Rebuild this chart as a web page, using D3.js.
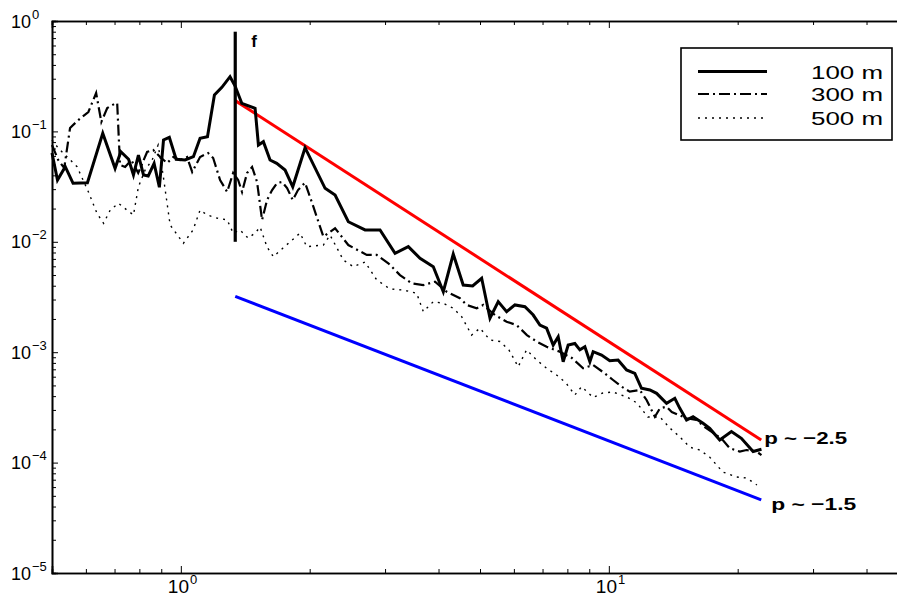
<!DOCTYPE html>
<html><head><meta charset="utf-8">
<script src="https://cdn.jsdelivr.net/npm/d3@7/dist/d3.min.js"></script>
<style>
body{margin:0;background:#fff}
svg{display:block}
text{font-family:"Liberation Sans",Arial,Helvetica,sans-serif;fill:#000}
</style>
</head><body>
<svg id="chart" width="897" height="598"></svg>
<script>
// ---------- data ----------
const freq100 = [0.500,0.515,0.537,0.560,0.605,0.657,0.702,0.724,0.755,0.775,0.796,0.818,0.839,0.866,0.891,0.911,0.940,0.975,1.023,1.070,1.109,1.154,1.198,1.247,1.303,1.339,1.388,1.491,1.518,1.559,1.616,1.675,1.752,1.826,1.951,2.173,2.293,2.462,2.694,2.920,3.166,3.400,3.621,3.889,4.104,4.330,4.568,4.806,5.045,5.276,5.515,5.770,6.033,6.367,6.658,6.902,7.154,7.413,7.615,7.822,8.035,8.329,8.557,8.790,9.030,9.191,9.616,10.05,10.51,11.00,11.50,11.92,12.47,12.93,13.64,14.26,14.65,15.19,15.73,16.60,17.21,18.16,19.34,20.40,21.73,22.73];
const psd100 = [0.0637,0.0363,0.0479,0.0339,0.0343,0.0961,0.0463,0.0655,0.0559,0.0403,0.0611,0.0403,0.0394,0.0514,0.0312,0.0836,0.0884,0.0559,0.0551,0.0590,0.0866,0.0895,0.2137,0.2508,0.313,0.2577,0.1797,0.1619,0.0753,0.0807,0.0551,0.0514,0.0447,0.0315,0.0712,0.0305,0.0265,0.0152,0.0128,0.0128,0.00787,0.00903,0.00709,0.00595,0.00353,0.00775,0.00406,0.00398,0.00467,0.00203,0.00287,0.00233,0.00268,0.00258,0.00217,0.00176,0.00165,0.00116,0.00138,0.00082,0.00116,0.0012,0.00105,0.00112,0.00082,0.00101,0.000943,0.000838,0.00085,0.00069,0.000644,0.000471,0.000455,0.000424,0.000344,0.000382,0.00031,0.000243,0.00026,0.000227,0.000204,0.00016,0.000191,0.000166,0.000126,0.000132];

const freq300 = [0.500,0.517,0.534,0.551,0.576,0.608,0.634,0.652,0.673,0.699,0.710,0.721,0.741,0.766,0.795,0.834,0.862,0.895,0.929,0.960,0.996,1.034,1.063,1.109,1.158,1.190,1.235,1.283,1.325,1.361,1.390,1.428,1.467,1.507,1.548,1.590,1.634,1.678,1.724,1.771,1.826,1.878,1.951,2.040,2.153,2.293,2.462,2.719,2.869,3.053,3.251,3.462,3.686,3.925,4.180,4.488,4.654,4.912,5.088,5.418,5.770,6.089,6.435,6.779,7.154,7.684,8.197,8.710,9.191,9.683,10.23,10.71,11.19,11.81,12.25,12.81,13.16,13.64,14.03,15.19,16.02,16.85,17.84,18.46,19.16,20.23,20.97,22.13,22.73];
const psd300 = [0.0753,0.0551,0.0466,0.1074,0.1268,0.1499,0.2228,0.1217,0.1629,0.1771,0.1809,0.0496,0.0476,0.0551,0.042,0.0651,0.0679,0.0586,0.0517,0.0586,0.0551,0.0586,0.0429,0.0586,0.0637,0.0574,0.0363,0.0283,0.042,0.0363,0.0283,0.042,0.0476,0.0348,0.01576,0.0239,0.0294,0.0341,0.0348,0.0307,0.0239,0.0294,0.0343,0.0208,0.01112,0.01326,0.00935,0.0076,0.0076,0.00639,0.0050,0.00421,0.00406,0.00435,0.00353,0.00308,0.00268,0.0025,0.00268,0.00217,0.00189,0.00176,0.00143,0.00125,0.00112,0.00101,0.000886,0.000715,0.000766,0.000662,0.00056,0.000487,0.000439,0.000455,0.000369,0.00026,0.00031,0.000321,0.000287,0.000252,0.000243,0.000206,0.000178,0.00016,0.000135,0.000126,0.00013,0.000126,0.000117];

const freq500 = [0.500,0.517,0.542,0.572,0.608,0.637,0.660,0.684,0.715,0.748,0.775,0.796,0.825,0.857,0.885,0.909,0.944,1.014,1.068,1.109,1.152,1.215,1.283,1.325,1.375,1.436,1.491,1.532,1.590,1.645,1.733,1.832,1.899,1.969,2.058,2.153,2.232,2.397,2.529,2.694,2.869,3.081,3.309,3.556,3.686,3.889,4.104,4.322,4.530,4.780,4.998,5.276,5.566,5.841,6.141,6.424,6.779,7.154,7.549,7.94,8.329,8.636,9.191,9.683,10.22,11.02,11.63,12.33,13.16,13.88,14.65,15.46,16.31,17.21,18.46,19.90,20.99,22.18];
const psd500 = [0.0836,0.0707,0.059,0.0479,0.0284,0.0181,0.0147,0.0194,0.0223,0.0194,0.0175,0.0315,0.0447,0.0551,0.0753,0.0403,0.0142,0.0097,0.0128,0.0194,0.0175,0.0164,0.0158,0.012,0.0128,0.0108,0.012,0.0136,0.00897,0.00733,0.00879,0.0106,0.012,0.00903,0.0092,0.00935,0.0115,0.00684,0.00595,0.00656,0.00451,0.00374,0.00366,0.00342,0.00233,0.00287,0.00277,0.00251,0.0021,0.00143,0.00165,0.00129,0.00125,0.00105,0.000739,0.00105,0.00085,0.000715,0.000622,0.000526,0.00041,0.000487,0.000389,0.000427,0.000436,0.000393,0.000347,0.000259,0.000259,0.000206,0.000171,0.000138,0.00013,0.000112,0.0000822,0.0000741,0.0000725,0.0000627];

const seriesNames = ["100 m", "300 m", "500 m"];

// power-law reference lines
const slopeRedX = [1.34, 22.7];
const slopeRedY = [0.19, 0.00016];
const slopeBlueX = [1.34, 22.7];
const slopeBlueY = [0.0032, 0.000046];
const slopeLabels = ["p ~ \u22122.5", "p ~ \u22121.5"];

// forcing frequency marker
const fMarkX = 1.34;
const fMarkY = [0.01, 0.8];
const fLabel = "f";

// axes
const xDomain = [0.5, 50];
const yDomain = [1e-5, 1];
const xMajorTicks = [1, 10];
const yMajorTicks = [1e-5, 1e-4, 1e-3, 1e-2, 1e-1, 1];
const xTickExp = ["0", "1"];
const yTickExp = ["\u22125", "\u22124", "\u22123", "\u22122", "\u22121", "0"];

// ---------- drawing ----------
const svg = d3.select("#chart");
const L = 52, T = 21, B = 573, R = 908;
const x = d3.scaleLog().domain(xDomain).range([L, R]);
const y = d3.scaleLog().domain(yDomain).range([B, T]);

const isMajor = v => Math.abs(Math.log10(v) - Math.round(Math.log10(v))) < 1e-9;
const xMinor = x.ticks().filter(v => !isMajor(v) && v > xDomain[0] && v < xDomain[1]);
const yMinor = y.ticks().filter(v => !isMajor(v));

const ax = svg.append("g");
ax.append("g").attr("transform", `translate(0,${B})`)
  .call(d3.axisBottom(x).tickValues(xMajorTicks).tickSize(-7).tickFormat(""));
ax.append("g").attr("transform", `translate(0,${B})`)
  .call(d3.axisBottom(x).tickValues(xMinor).tickSize(-4).tickFormat(""));
ax.append("g").attr("transform", `translate(0,${T})`)
  .call(d3.axisTop(x).tickValues(xMajorTicks).tickSize(-7).tickFormat(""));
ax.append("g").attr("transform", `translate(0,${T})`)
  .call(d3.axisTop(x).tickValues(xMinor).tickSize(-4).tickFormat(""));
ax.append("g").attr("transform", `translate(${L},0)`)
  .call(d3.axisLeft(y).tickValues(yMajorTicks).tickSize(-6).tickFormat(""));
ax.append("g").attr("transform", `translate(${L},0)`)
  .call(d3.axisLeft(y).tickValues(yMinor).tickSize(-4).tickFormat(""));
ax.selectAll("path.domain").attr("stroke", "#000").attr("stroke-width", 1.6);
ax.selectAll(".tick line").attr("stroke", "#000").attr("stroke-width", 1);

// tick labels 10^n
yMajorTicks.forEach((v, i) => {
  const t = svg.append("text").attr("x", 11).attr("y", y(v) + 6.5).attr("font-size", 18);
  t.append("tspan").text("10");
  t.append("tspan").attr("dy", -9).attr("dx", 1).attr("font-size", 13).text(yTickExp[i]);
});
xMajorTicks.forEach((v, i) => {
  const t = svg.append("text").attr("x", x(v) - 13).attr("y", 593).attr("font-size", 19);
  t.append("tspan").text("10");
  t.append("tspan").attr("dy", -9).attr("dx", 1).attr("font-size", 13).text(xTickExp[i]);
});

const line = d3.line().x(d => x(d[0])).y(d => y(d[1]));
const zip = (a, b) => a.map((v, i) => [v, b[i]]);

// reference lines
svg.append("path").datum(zip(slopeRedX, slopeRedY)).attr("d", line)
  .attr("fill", "none").attr("stroke", "#ff0000").attr("stroke-width", 3);
svg.append("path").datum(zip(slopeBlueX, slopeBlueY)).attr("d", line)
  .attr("fill", "none").attr("stroke", "#0000ff").attr("stroke-width", 3);

const styles = [
  {w: 3, dash: null},
  {w: 2.2, dash: "11,4,2,4"},
  {w: 1.4, dash: "2,5"}
];
const series = [zip(freq100, psd100), zip(freq300, psd300), zip(freq500, psd500)];
series.forEach((s, i) => {
  svg.append("path").datum(s).attr("d", line)
    .attr("fill", "none").attr("stroke", "#000")
    .attr("stroke-width", styles[i].w)
    .attr("stroke-linejoin", "miter")
    .attr("stroke-dasharray", styles[i].dash);
});

// f marker
svg.append("path").datum(fMarkY.map(v => [fMarkX, v])).attr("d", line)
  .attr("stroke", "#000").attr("stroke-width", 3.2).attr("fill", "none");
svg.append("text").attr("x", x(fMarkX) + 16).attr("y", 47)
  .attr("font-size", 17).attr("font-weight", "bold").text(fLabel);

// slope labels
svg.append("text").attr("x", x(slopeRedX[1]) + 3).attr("y", y(slopeRedY[1]) + 4)
  .attr("font-size", 17).attr("font-weight", "bold")
  .attr("textLength", 83).attr("lengthAdjust", "spacingAndGlyphs").text(slopeLabels[0]);
svg.append("text").attr("x", x(slopeBlueX[1]) + 10).attr("y", y(slopeBlueY[1]) + 10)
  .attr("font-size", 17).attr("font-weight", "bold")
  .attr("textLength", 85).attr("lengthAdjust", "spacingAndGlyphs").text(slopeLabels[1]);

// legend
const lg = svg.append("g");
lg.append("rect").attr("x", 681).attr("y", 48).attr("width", 211).attr("height", 92)
  .attr("fill", "#fff").attr("stroke", "#000").attr("stroke-width", 1.6);
const lgY = [71.5, 94, 118];
seriesNames.forEach((n, i) => {
  lg.append("line").attr("x1", 698).attr("x2", 767).attr("y1", lgY[i]).attr("y2", lgY[i])
    .attr("stroke", "#000").attr("stroke-width", styles[i].w)
    .attr("stroke-dasharray", styles[i].dash);
  lg.append("text").attr("x", 883).attr("y", lgY[i] + 7).attr("text-anchor", "end")
    .attr("font-size", 19).attr("textLength", 72).attr("lengthAdjust", "spacingAndGlyphs").text(n);
});
</script>
</body></html>
